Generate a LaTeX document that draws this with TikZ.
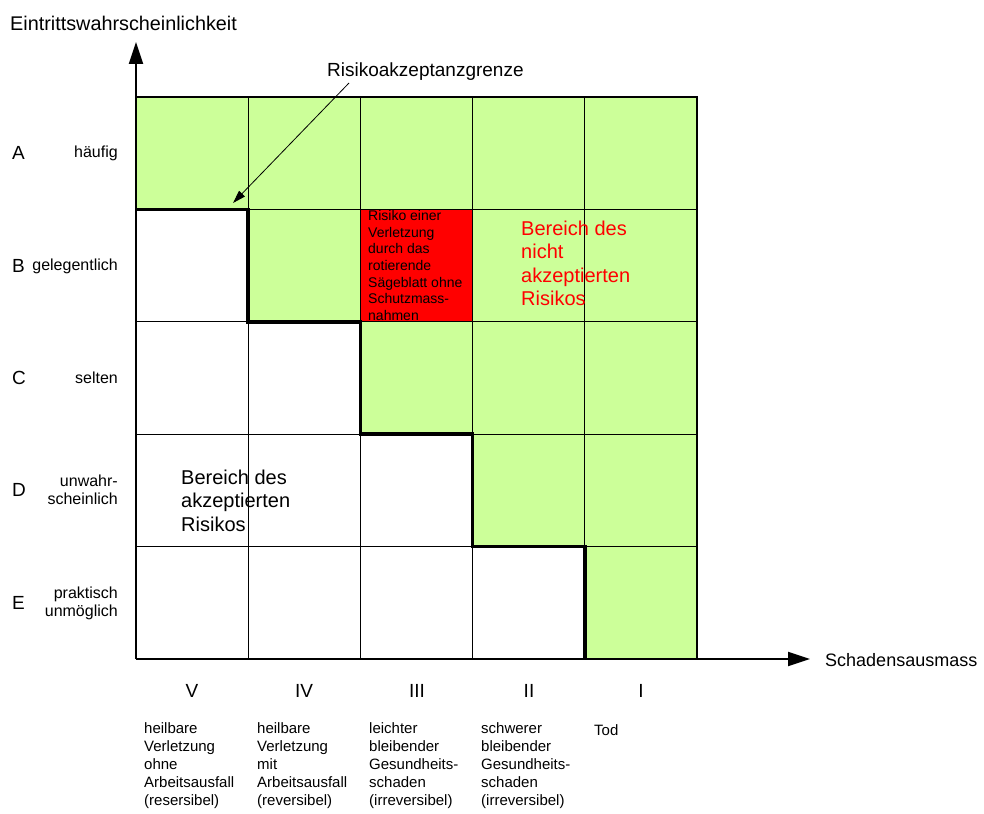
\documentclass[tikz,border=0pt]{standalone}
\usepackage{fontspec}
\setmainfont{Liberation Sans}
\usetikzlibrary{arrows.meta}
\definecolor{okgreen}{HTML}{CCFF99}
\definecolor{riskred}{HTML}{FF0000}
\begin{document}
\begin{tikzpicture}[x=1pt,y=-1pt,
  biglabel/.style={font=\fontsize{19}{23}\selectfont, inner sep=0pt},
  rowtext/.style={font=\fontsize{16}{18}\selectfont, anchor=east, align=right, inner sep=0pt},
  coltext/.style={font=\fontsize{15}{18}\selectfont, anchor=north west, align=left, inner sep=0pt},
  areatext/.style={font=\fontsize{20}{23.3}\selectfont, anchor=north west, align=left, inner sep=0pt},
  celltext/.style={font=\fontsize{14}{16.7}\selectfont, anchor=north west, align=left, inner sep=0pt},
  gridline/.style={line width=1pt},
  limitline/.style={line width=3.6pt, line join=miter},
  axis/.style={line width=2pt, -{Triangle[length=22pt,width=14pt]}}
]
\useasboundingbox (0,0) rectangle (984,813);

% cell fills
\fill[okgreen] (136,97) rectangle (697,209.4);
\fill[okgreen] (248.2,209.4) rectangle (697,321.8);
\fill[okgreen] (360.4,321.8) rectangle (697,434.2);
\fill[okgreen] (472.6,434.2) rectangle (697,546.6);
\fill[okgreen] (584.8,546.6) rectangle (697,659);
\fill[riskred] (360.4,209.4) rectangle (472.6,321.8);

% inner grid
\foreach \gx in {248.2,360.4,472.6,584.8}
  \draw[gridline] (\gx,97) -- (\gx,659);
\foreach \gy in {209.4,321.8,434.2,546.6}
  \draw[gridline] (136,\gy) -- (697,\gy);
\draw[line width=2pt] (135,97) -- (697,97) -- (697,659);

% axes
\coordinate (origin) at (136,659);
\coordinate (ytip) at (136,42);
\coordinate (xtip) at (810,659);
\draw[axis] (origin) -- (ytip);
\draw[axis] (origin) -- (xtip);
\node[font=\fontsize{19.8}{23}\selectfont, inner sep=0pt, anchor=base west] (ylabel) at (10,31) {Eintrittswahrscheinlichkeit};
\node[font=\fontsize{18}{22}\selectfont, inner sep=0pt, anchor=base west] (xlabel) at (825,666) {Schadensausmass};

% acceptance limit
\draw[limitline] (136,209.4) -| (248.2,321.8) -| (360.4,434.2) -| (472.6,546.6) -| (584.8,659);
\node[biglabel, anchor=base west] (limit) at (327,77) {Risikoakzeptanzgrenze};
\coordinate (leadstart) at (349,83);
\coordinate (leadtip) at (233,203);
\draw[line width=0.8pt, -{Triangle[length=13pt,width=8pt]}] (leadstart) -- (leadtip);

% probability classes
\foreach \r/\yc/\lt in {A/153/{häufig},B/266/{gelegentlich},C/378/{selten},D/490/{unwahr-\\scheinlich},E/603/{praktisch\\unmöglich}}{
  \node[biglabel, anchor=west] (row\r) at (12,\yc) {\r};
  \node[rowtext] (rowtext\r) at (118,\yc) {\lt};
}

% severity classes
\foreach \k/\xc/\num in {1/192/V,2/304/IV,3/417/III,4/529/II,5/641/I}
  \node[biglabel, anchor=base] (col\k) at (\xc,697) {\num};
\node[coltext] (coltext1) at (144,722) {heilbare\\Verletzung\\ohne\\Arbeitsausfall\\(resersibel)};
\node[coltext] (coltext2) at (257,722) {heilbare\\Verletzung\\mit\\Arbeitsausfall\\(reversibel)};
\node[coltext] (coltext3) at (369,722) {leichter\\bleibender\\Gesundheits-\\schaden\\(irreversibel)};
\node[coltext] (coltext4) at (481,722) {schwerer\\bleibender\\Gesundheits-\\schaden\\(irreversibel)};
\node[coltext] (coltext5) at (594,724) {Tod};

% area texts
\node[celltext] (sawrisk) at (368,210) {Risiko einer\\Verletzung\\durch das\\rotierende\\Sägeblatt ohne\\Schutzmass-\\nahmen};
\node[areatext, text=riskred] (notaccepted) at (521,221) {Bereich des\\nicht\\akzeptierten\\Risikos};
\node[areatext] (accepted) at (181,470) {Bereich des\\akzeptierten\\Risikos};
\end{tikzpicture}
\end{document}
